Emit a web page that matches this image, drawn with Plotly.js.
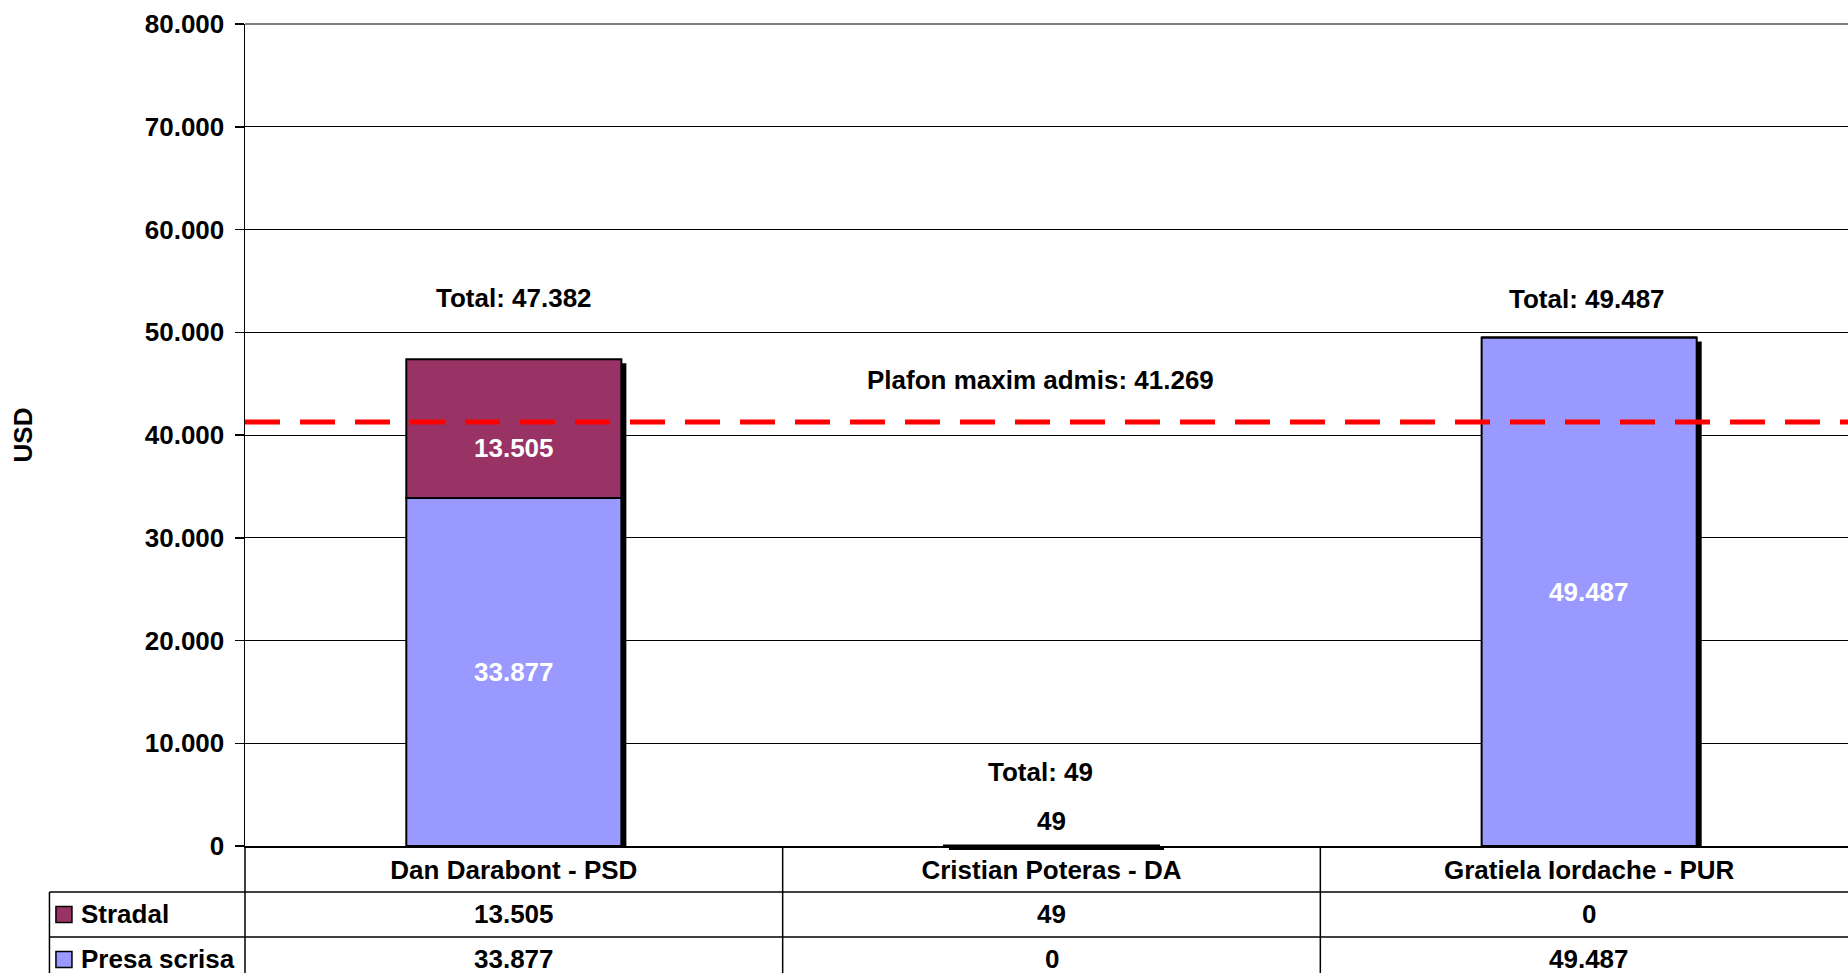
<!DOCTYPE html>
<html>
<head>
<meta charset="utf-8">
<script src="https://cdn.plot.ly/plotly-3.0.1.min.js"></script>
<style>
  html, body { margin: 0; padding: 0; overflow: hidden; background: #fff; }
  #chart { width: 1860px; height: 990px; }
</style>
</head>
<body>
<div id="chart"></div>
<script>
// ---- data ----
const categories = ['Dan Darabont - PSD', 'Cristian Poteras - DA', 'Gratiela Iordache - PUR'];
const seriesNames = ['Stradal', 'Presa scrisa'];
const stradal = [13505, 49, 0];
const presa = [33877, 0, 49487];
const plafon = 41269;
const yTicks = [0, 10000, 20000, 30000, 40000, 50000, 60000, 70000, 80000];

// ---- styling / geometry constants ----
const FONT = 'Arial, "Liberation Sans", sans-serif';
const FS = 26;
const colStradal = '#993366';
const colPresa = '#9999FF';
const plotTopPx = 24, plotBottomPx = 846, plotLeftPx = 245, layoutW = 1860, layoutH = 990;
const plotRightPx = 1857.6;
const plotH = plotBottomPx - plotTopPx;
const plotW = plotRightPx - plotLeftPx;
const yMax = 80000;
const pxToPaperY = Y => (plotBottomPx - Y) / plotH;
const pxToPaperX = X => (X - plotLeftPx) / plotW;
const rowLines = [892, 937, 982];
const barW = 0.4;
const shadowDxPx = 5, shadowDyPx = 4;
const shadowDx = shadowDxPx / (plotW / categories.length);
const shadowDy = shadowDyPx * yMax / plotH;

const fmt = n => String(n).replace(/\B(?=(\d{3})+(?!\d))/g, '.');
const totals = categories.map((c, i) => stradal[i] + presa[i]);

// ---- traces ----
const shadow = {
  type: 'bar', x: categories, y: totals, base: totals.map(() => -shadowDy),
  width: barW, offset: -barW / 2 + shadowDx,
  marker: { color: '#000', line: { width: 0 } }, hoverinfo: 'skip', showlegend: false
};
const presaTrace = {
  type: 'bar', name: seriesNames[1], x: categories, y: presa, base: presa.map(() => 0),
  width: barW, offset: -barW / 2,
  marker: { color: colPresa, line: { color: '#000', width: 2 } }, showlegend: false
};
const stradalTrace = {
  type: 'bar', name: seriesNames[0], x: categories, y: stradal, base: presa,
  width: barW, offset: -barW / 2,
  marker: { color: colStradal, line: { color: '#000', width: 2 } }, showlegend: false
};

// ---- annotations ----
const annotations = [];
const totalShift = [61, 74, 39];
const totalXShift = [0, -11, -2];
categories.forEach((c, i) => {
  annotations.push({ x: c, y: totals[i], xref: 'x', yref: 'y', text: 'Total: ' + fmt(totals[i]),
    showarrow: false, yanchor: 'middle', yshift: totalShift[i], xshift: totalXShift[i],
    font: { size: FS, color: '#000' } });
});
// segment labels
const segs = [{ vals: presa, base: presa.map(() => 0), shift: 0 }, { vals: stradal, base: presa, shift: -19 }];
segs.forEach(s => {
  s.vals.forEach((v, i) => {
    if (v <= 0) return;
    const heightPx = v / yMax * plotH;
    if (heightPx > 40) {
      annotations.push({ x: categories[i], y: s.base[i] + v / 2, xref: 'x', yref: 'y', text: fmt(v),
        showarrow: false, yanchor: 'middle', yshift: s.shift, font: { size: FS, color: '#fff' } });
    } else {
      annotations.push({ x: categories[i], y: s.base[i] + v, xref: 'x', yref: 'y', text: fmt(v),
        showarrow: false, yanchor: 'middle', yshift: 25, font: { size: FS, color: '#000' } });
    }
  });
});
// plafon label
annotations.push({ x: categories[1], y: plafon, xref: 'x', yref: 'y', text: 'Plafon maxim admis: ' + fmt(plafon),
  showarrow: false, yanchor: 'middle', yshift: 42, xshift: -11, font: { size: FS, color: '#000' } });

// table values
const tableRows = [stradal, presa];
tableRows.forEach((row, r) => {
  const yc = pxToPaperY((rowLines[r] + rowLines[r + 1]) / 2);
  row.forEach((v, i) => {
    annotations.push({ x: categories[i], y: yc, xref: 'x', yref: 'paper', text: fmt(v),
      showarrow: false, yanchor: 'middle', font: { size: FS, color: '#000' } });
  });
  annotations.push({ x: pxToPaperX(79), y: yc, xref: 'paper', yref: 'paper', text: seriesNames[r],
    showarrow: false, xanchor: 'left', yanchor: 'middle', font: { size: FS, color: '#000' } });
});

// ---- shapes ----
const shapes = [];
// shadow strips of bars too short for their shadow to show inside the plot area
totals.forEach((t, i) => {
  if (t > 0 && t < shadowDy) {
    shapes.push({ type: 'rect', xref: 'x', yref: 'paper', layer: 'above',
      x0: i - barW / 2 + shadowDx, x1: i + barW / 2 + shadowDx,
      y0: -shadowDyPx / plotH, y1: 0, fillcolor: '#000', line: { width: 0 } });
  }
});
const legendColors = [colStradal, colPresa];
tableRows.forEach((row, r) => {
  const yc = (rowLines[r] + rowLines[r + 1]) / 2;
  shapes.push({ type: 'rect', xref: 'paper', yref: 'paper',
    x0: pxToPaperX(56), x1: pxToPaperX(72), y0: pxToPaperY(yc + 8), y1: pxToPaperY(yc - 8),
    fillcolor: legendColors[r], line: { color: '#000', width: 1.5 } });
});
// horizontal table lines
rowLines.forEach(Y => {
  shapes.push({ type: 'line', xref: 'paper', yref: 'paper', x0: pxToPaperX(49.5), x1: 1,
    y0: pxToPaperY(Y), y1: pxToPaperY(Y), line: { color: '#000', width: 1.5 } });
});
// vertical table lines
shapes.push({ type: 'line', xref: 'paper', yref: 'paper', x0: pxToPaperX(49.5), x1: pxToPaperX(49.5),
  y0: pxToPaperY(rowLines[0]), y1: pxToPaperY(rowLines[2]), line: { color: '#000', width: 1.5 } });
shapes.push({ type: 'line', xref: 'paper', yref: 'paper', x0: 0, x1: 0,
  y0: 0, y1: pxToPaperY(rowLines[2]), line: { color: '#000', width: 1.5 } });
for (let k = 0; k < categories.length - 1; k++) {
  shapes.push({ type: 'line', xref: 'x', yref: 'paper', x0: k + 0.5, x1: k + 0.5,
    y0: 0, y1: pxToPaperY(rowLines[2]), line: { color: '#000', width: 1.5 } });
}
// top border
shapes.push({ type: 'line', xref: 'paper', yref: 'paper', x0: 0, x1: 1, y0: 1, y1: 1,
  line: { color: '#808080', width: 2 } });
// plafon dashed line
shapes.push({ type: 'line', xref: 'paper', yref: 'y', x0: 0, x1: 1, y0: plafon, y1: plafon,
  layer: 'above', line: { color: '#FF0000', width: 5, dash: '35px,20px' } });

const layout = {
  width: layoutW, height: layoutH,
  margin: { l: plotLeftPx, r: layoutW - plotRightPx, t: plotTopPx, b: layoutH - plotBottomPx, pad: 0 },
  paper_bgcolor: '#fff', plot_bgcolor: '#fff',
  font: { family: FONT, size: FS, color: '#000', weight: 'bold' },
  separators: ',.',
  barmode: 'overlay',
  showlegend: false,
  xaxis: {
    type: 'category', range: [-0.5, categories.length - 0.5], showgrid: false, zeroline: false,
    showline: true, linecolor: '#000', linewidth: 1.5, ticks: '', ticklabelstandoff: 0,
    tickfont: { size: FS, color: '#000', weight: 'bold' }, fixedrange: true
  },
  yaxis: {
    range: [0, yMax], tickvals: yTicks, ticktext: yTicks.map(fmt),
    showgrid: true, gridcolor: '#000', gridwidth: 1, zeroline: false,
    showline: true, linecolor: '#000', linewidth: 1.5, ticks: 'outside', ticklen: 9, tickcolor: '#000',
    tickwidth: 1.5, ticklabelstandoff: 5,
    tickfont: { size: FS, color: '#000', weight: 'bold' },
    title: { text: 'USD', standoff: 104, font: { size: 26, color: '#000', weight: 'bold' } },
    automargin: false, fixedrange: true
  },
  shapes: shapes,
  annotations: annotations
};

Plotly.newPlot('chart', [shadow, presaTrace, stradalTrace], layout, { displayModeBar: false, staticPlot: true });
</script>
</body>
</html>
